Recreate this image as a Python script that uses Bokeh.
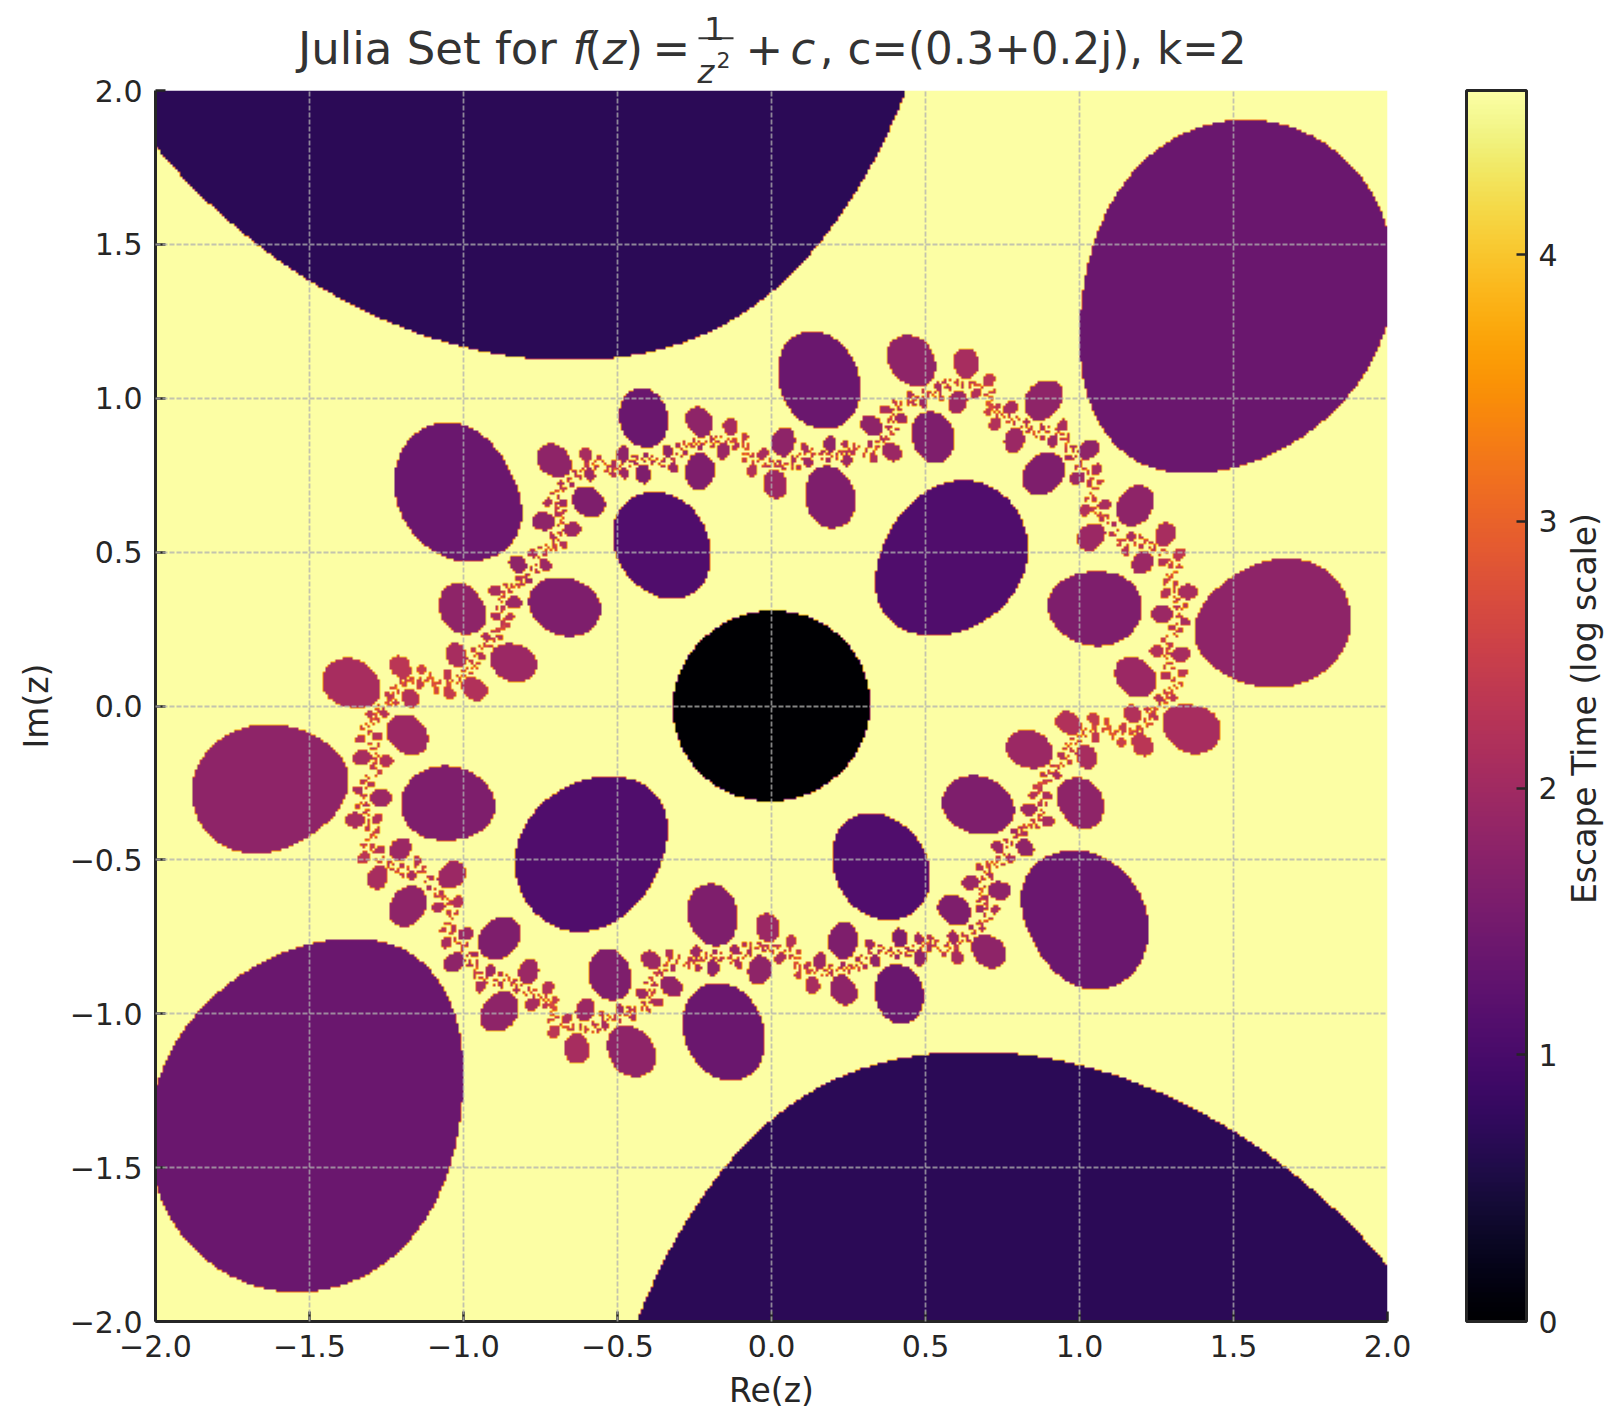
import numpy as np
from math import pi
from bokeh.plotting import figure
from bokeh.layouts import column
from bokeh.models import LinearColorMapper, ColorBar, FixedTicker, Label
from bokeh.core.properties import value
from bokeh.palettes import Inferno256
from bokeh.embed import file_html
from bokeh.resources import INLINE

# The heatmap cells are the escape times of the map named in the chart's own title,
# not values; these parameters were inferred from the reference.
C = 0.3 + 0.2j
K = 2
MAX_ITER = 100
ESCAPE_RADIUS = 10.0
GRID_SIZE = 500
DISPLAY_SIZE = 1232    # slight smoothing like the reference's image resampling, which gives its orange rims

AXIS_TICKS = [-2.0, -1.5, -1.0, -0.5, 0.0, 0.5, 1.0, 1.5, 2.0]
AXIS_TICK_LABELS = ["\u22122.0", "\u22121.5", "\u22121.0", "\u22120.5", "0.0", "0.5", "1.0", "1.5", "2.0"]
CBAR_TICKS = [0, 1, 2, 3, 4]
X_LABEL = "Re(z)"
Y_LABEL = "Im(z)"
CBAR_LABEL = "Escape Time (log scale)"

# page-pixel geometry measured on the reference
FRAME_L, FRAME_R, FRAME_T, FRAME_B = 155.0, 1387.0, 90.0, 1321.0
W, H = 1605, 1412
HEADER_H = 90          # header strip that carries the typeset title
OVERLAP = 20           # main figure's top border slides under the header
HEADER_SHIFT = 15      # page offset of the header's y coordinates
FONT = "DejaVu Sans"
INK = "#262626"
TITLE_INK = "#333333"


def escape_times():
    xs = np.linspace(-2, 2, GRID_SIZE)
    X, Y = np.meshgrid(xs, xs)
    # the reference shows the set with the imaginary axis flipped (imshow origin "upper")
    z = X - 1j * Y
    count = np.full(z.shape, MAX_ITER, dtype=float)
    active = np.ones(z.shape, dtype=bool)
    for i in range(MAX_ITER):
        z[active] = 1.0 / z[active] ** K + C
        escaped = active & (np.abs(z) > ESCAPE_RADIUS)
        count[escaped] = i
        active &= ~escaped
    return np.log1p(count)


def smooth_to_display(a, n):
    u = (np.arange(n) + 0.5) / n * a.shape[0] - 0.5
    i = np.clip(np.floor(u).astype(int), 0, a.shape[0] - 2)
    t = np.clip((u - i - 0.3) / 0.4, 0, 1)  # steep ramp: about one display pixel wide
    rows = a[:, i] * (1 - t) + a[:, i + 1] * t
    out = rows[i, :] * (1 - t)[:, None] + rows[i + 1, :] * t[:, None]
    return out.astype(np.float32)


values = smooth_to_display(escape_times(), DISPLAY_SIZE)
mapper = LinearColorMapper(palette=Inferno256, low=0, high=float(np.log1p(MAX_ITER)))

# header: its data coordinates are page pixels
head = figure(
    width=W, height=HEADER_H, x_range=(0, W), y_range=(HEADER_H + HEADER_SHIFT, HEADER_SHIFT),
    output_backend="svg", toolbar_location=None, x_axis_location=None, y_axis_location=None,
    min_border=0, outline_line_color=None, border_fill_color=None, background_fill_color=None,
    frame_align=False,
)
head.xgrid.visible = False
head.ygrid.visible = False


def put(text, x, y, size, style="normal", align="left"):
    head.text(x=[x], y=[y], text=[text], text_font=value(FONT), text_font_size=value(f"{size}px"),
              text_font_style=style, text_align=align, text_baseline="alphabetic", text_color=TITLE_INK)


BASE = 63
put("Julia Set for", 297.5, BASE, 45)
put("f", 572, BASE, 45, style="italic")
put("(", 584, BASE, 45)
put("z", 602, BASE, 45, style="italic")
put(")", 625, BASE, 45)
put("=", 652, BASE, 45)
put("1", 714, 42.7, 32, align="center")
put("z", 697, 86, 32, style="italic")
put("2", 716, 74, 22)
put("+", 745, BASE, 45)
put("c", 790, BASE, 45, style="italic")
put(", c=(0.3+0.2j), k=2", 1246, BASE, 43.6, align="right")
head.segment(x0=[698], y0=[52.7], x1=[733], y1=[52.7], line_color=TITLE_INK, line_width=2)

p = figure(
    width=W, height=H - HEADER_H + OVERLAP, x_range=(-2, 2), y_range=(-2, 2),
    output_backend="svg", toolbar_location=None,
    min_border_left=int(FRAME_L),
    min_border_right=int(W - FRAME_R),
    min_border_top=OVERLAP,
    min_border_bottom=int(H - FRAME_B),
    outline_line_color=None, background_fill_color="white", border_fill_color=None,
    margin=(-OVERLAP, 0, 0, 0), frame_align=False,
)
p.image(image=[values], x=-2, y=-2, dw=4, dh=4, color_mapper=mapper)

for ax, label in ((p.xaxis[0], X_LABEL), (p.yaxis[0], Y_LABEL)):
    ax.ticker = FixedTicker(ticks=AXIS_TICKS)
    ax.major_label_overrides = dict(zip(AXIS_TICKS, AXIS_TICK_LABELS))
    ax.minor_tick_line_color = None
    ax.major_tick_in = 10
    ax.major_tick_out = 0
    ax.major_tick_line_width = 2.5
    ax.major_tick_line_color = INK
    ax.axis_line_width = 3
    ax.axis_line_color = INK
    ax.major_label_text_font = FONT
    ax.major_label_text_font_size = "30px"
    ax.major_label_text_color = INK
    ax.major_label_standoff = 13
    ax.axis_label = label
    ax.axis_label_text_font = FONT
    ax.axis_label_text_font_size = "33px"
    ax.axis_label_text_font_style = "normal"
    ax.axis_label_text_color = INK
    ax.axis_label_standoff = 11

p.yaxis[0].major_label_orientation = "horizontal"

for g in (p.xgrid[0], p.ygrid[0]):
    g.ticker = FixedTicker(ticks=AXIS_TICKS)
    g.level = "overlay"
    g.grid_line_color = "#b0b0b0"
    g.grid_line_alpha = 0.75
    g.grid_line_width = 1.8
    g.grid_line_dash = "5 2"

cb = ColorBar(
    color_mapper=mapper, ticker=FixedTicker(ticks=CBAR_TICKS),
    width=60, height=int(FRAME_B - FRAME_T), margin=0, padding=0,
    bar_line_color=INK, bar_line_width=3, border_line_color=None,
    major_tick_line_color=INK, major_tick_line_width=2.5, major_tick_in=10, major_tick_out=0,
    minor_tick_line_color=None,
    major_label_text_font=FONT, major_label_text_font_size="30px", major_label_text_color=INK,
    label_standoff=12, background_fill_color=None, location=(79, 0),
)
p.add_layout(cb, "right")

p.add_layout(Label(
    x=(1584 - FRAME_L) / (FRAME_R - FRAME_L) * 4 - 2,
    y=(FRAME_B - 708) / (FRAME_B - FRAME_T) * 4 - 2,
    text=CBAR_LABEL, text_font=FONT, text_font_size="33px", text_align="center",
    text_baseline="middle", angle=pi / 2, text_color=INK,
), "right")

page = column(head, p, spacing=0)
open("out.html", "w").write(file_html(page, INLINE))
